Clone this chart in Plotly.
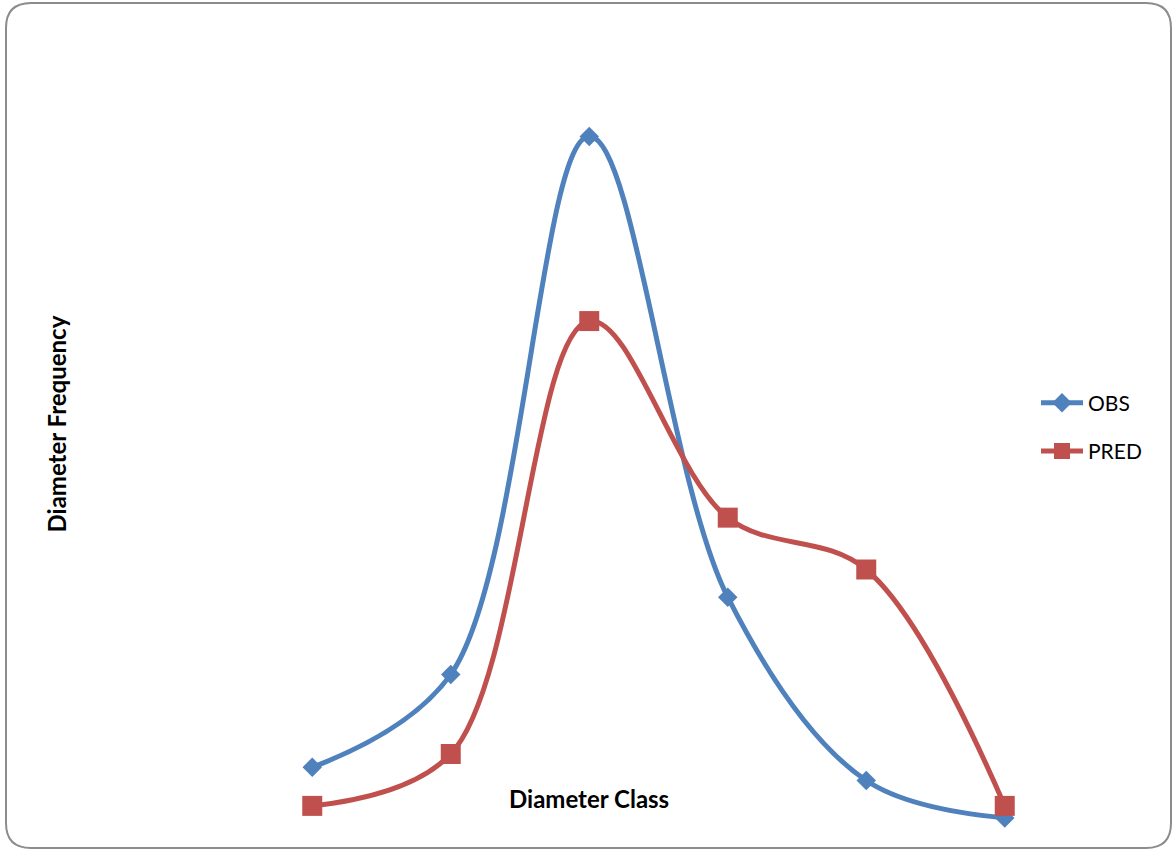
import plotly.graph_objects as go

# Diameter classes and relative frequencies (%)
classes = ["C1", "C2", "C3", "C4", "C5", "C6"]
obs = [5.2, 12.9, 57.5, 19.3, 4.1, 1.0]
pred = [2.0, 6.3, 42.2, 25.9, 21.6, 2.0]

W, H = 1176, 850
ML, MR, MT, MB = 243, 102, 70, 20
PW, PH = W - ML - MR, H - MT - MB

BLUE = "#4F81BD"
RED = "#C0504D"
FONT = "Lato"


def px_x(px):
    return (px - ML) / PW


def px_y(py):
    return (H - MB - py) / PH


fig = go.Figure()
fig.add_trace(go.Scatter(
    x=classes, y=obs, name="OBS", mode="lines+markers",
    line=dict(color=BLUE, width=5, shape="spline", smoothing=1.0),
    marker=dict(symbol="diamond", size=15, color=BLUE),
    legendgroup="a",
))
fig.add_trace(go.Scatter(
    x=classes, y=pred, name="PRED", mode="lines+markers",
    line=dict(color=RED, width=5, shape="spline", smoothing=1.0),
    marker=dict(symbol="square", size=20, color=RED),
    legendgroup="b",
))

# rounded chart border
x0, x1 = 6, 1171
y0, y1 = 3, 848
r = 25
path = (
    f"M {px_x(x0 + r)},{px_y(y0)} L {px_x(x1 - r)},{px_y(y0)} "
    f"Q {px_x(x1)},{px_y(y0)} {px_x(x1)},{px_y(y0 + r)} "
    f"L {px_x(x1)},{px_y(y1 - r)} "
    f"Q {px_x(x1)},{px_y(y1)} {px_x(x1 - r)},{px_y(y1)} "
    f"L {px_x(x0 + r)},{px_y(y1)} "
    f"Q {px_x(x0)},{px_y(y1)} {px_x(x0)},{px_y(y1 - r)} "
    f"L {px_x(x0)},{px_y(y0 + r)} "
    f"Q {px_x(x0)},{px_y(y0)} {px_x(x0 + r)},{px_y(y0)} Z"
)
fig.add_shape(type="path", xref="paper", yref="paper", path=path,
              line=dict(color="#8C8C8C", width=2), layer="below")

fig.add_annotation(text="<b>Diameter Class</b>", xref="paper", yref="paper",
                   x=px_x(589), y=px_y(815), showarrow=False,
                   font=dict(family=FONT, size=24, color="black"))
fig.add_annotation(text="<b>Diameter Frequency</b>", xref="paper", yref="paper",
                   x=px_x(39), y=px_y(424), showarrow=False, textangle=-90,
                   font=dict(family=FONT, size=24, color="black"))

fig.update_layout(
    width=W, height=H,
    margin=dict(l=ML, r=MR, t=MT, b=MB),
    paper_bgcolor="white", plot_bgcolor="white",
    showlegend=True,
    legend=dict(x=px_x(1036), y=px_y(427), xanchor="left", yanchor="middle",
                font=dict(family=FONT, size=21, color="black"),
                itemwidth=42, tracegroupgap=18, traceorder="grouped",
                bgcolor="rgba(0,0,0,0)"),
    xaxis=dict(visible=False, range=[-0.5, 5.5]),
    yaxis=dict(visible=False, range=[0, PH / 12.06]),
)

fig.write_html("out.html")
